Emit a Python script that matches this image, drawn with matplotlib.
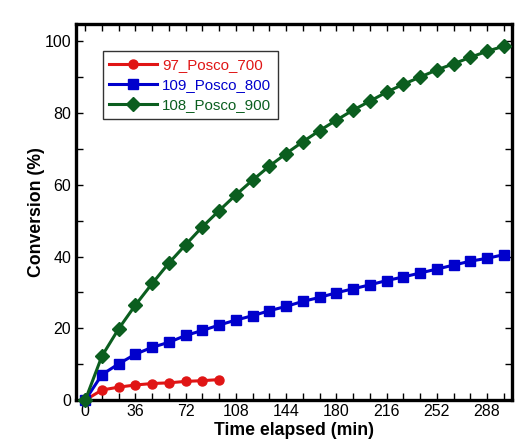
import matplotlib
matplotlib.use("Agg")
import matplotlib.pyplot as plt
from matplotlib.ticker import MultipleLocator

plt.rcParams['font.family'] = ['Liberation Sans', 'DejaVu Sans']

t_red = [0, 12, 24, 36, 48, 60, 72, 84, 96]
y_red = [0, 2.8, 3.6, 4.2, 4.6, 4.8, 5.2, 5.4, 5.7]

t_long = [0, 12, 24, 36, 48, 60, 72, 84, 96, 108, 120, 132, 144, 156, 168,
          180, 192, 204, 216, 228, 240, 252, 264, 276, 288, 300]
y_blue = [0, 7.1, 10.1, 12.8, 14.7, 16.1, 18.0, 19.4, 20.9, 22.3, 23.5, 24.9,
          26.1, 27.5, 28.6, 29.9, 31.0, 32.1, 33.3, 34.3, 35.4, 36.5, 37.6,
          38.7, 39.5, 40.5]
y_green = [0, 12.3, 19.9, 26.5, 32.5, 38.2, 43.3, 48.3, 52.8, 57.2, 61.3, 65.2,
           68.7, 72.0, 75.1, 78.0, 80.8, 83.3, 85.8, 88.0, 90.0, 92.0, 93.7,
           95.5, 97.2, 98.6]

labels = ['97_Posco_700', '109_Posco_800', '108_Posco_900']
colors = ['#e01515', '#0000cc', '#0b5e1f']

fig = plt.figure(figsize=(5.28, 4.44), dpi=100)
ax = fig.add_axes([0.143, 0.099, 0.827, 0.847])

ax.plot(t_red, y_red, '-o', color=colors[0], lw=2.2, ms=6.5, label=labels[0], clip_on=False, zorder=3)
ax.plot(t_long, y_blue, '-s', color=colors[1], lw=2.2, ms=7.5, label=labels[1], clip_on=False, zorder=3)
ax.plot(t_long, y_green, '-D', color=colors[2], lw=2.2, ms=7, label=labels[2], clip_on=False, zorder=3)

ax.set_xlim(-7, 306)
ax.set_ylim(0, 104.8)
ax.xaxis.set_major_locator(MultipleLocator(36))
ax.xaxis.set_minor_locator(MultipleLocator(12))
ax.yaxis.set_major_locator(MultipleLocator(20))
ax.yaxis.set_minor_locator(MultipleLocator(10))
ax.tick_params(which='both', direction='in', top=True, right=True, length=5, width=1,
               labelsize=11.5, pad=3)

for s in ax.spines.values():
    s.set_linewidth(2.4)

ax.set_xlabel('Time elapsed (min)', fontsize=12.7, fontweight='bold', labelpad=2)
ax.set_ylabel('Conversion (%)', fontsize=12.7, fontweight='bold', labelpad=0)

leg = ax.legend(loc='upper left', bbox_to_anchor=(0.062, 0.928), fontsize=10.8,
                frameon=True, fancybox=False, edgecolor='black', handlelength=3.2,
                borderpad=0.45, labelspacing=0.4, handletextpad=0.3, borderaxespad=0)
leg.get_frame().set_linewidth(1.0)
for txt, c in zip(leg.get_texts(), colors):
    txt.set_color(c)

fig.savefig('out.png', dpi=100)
